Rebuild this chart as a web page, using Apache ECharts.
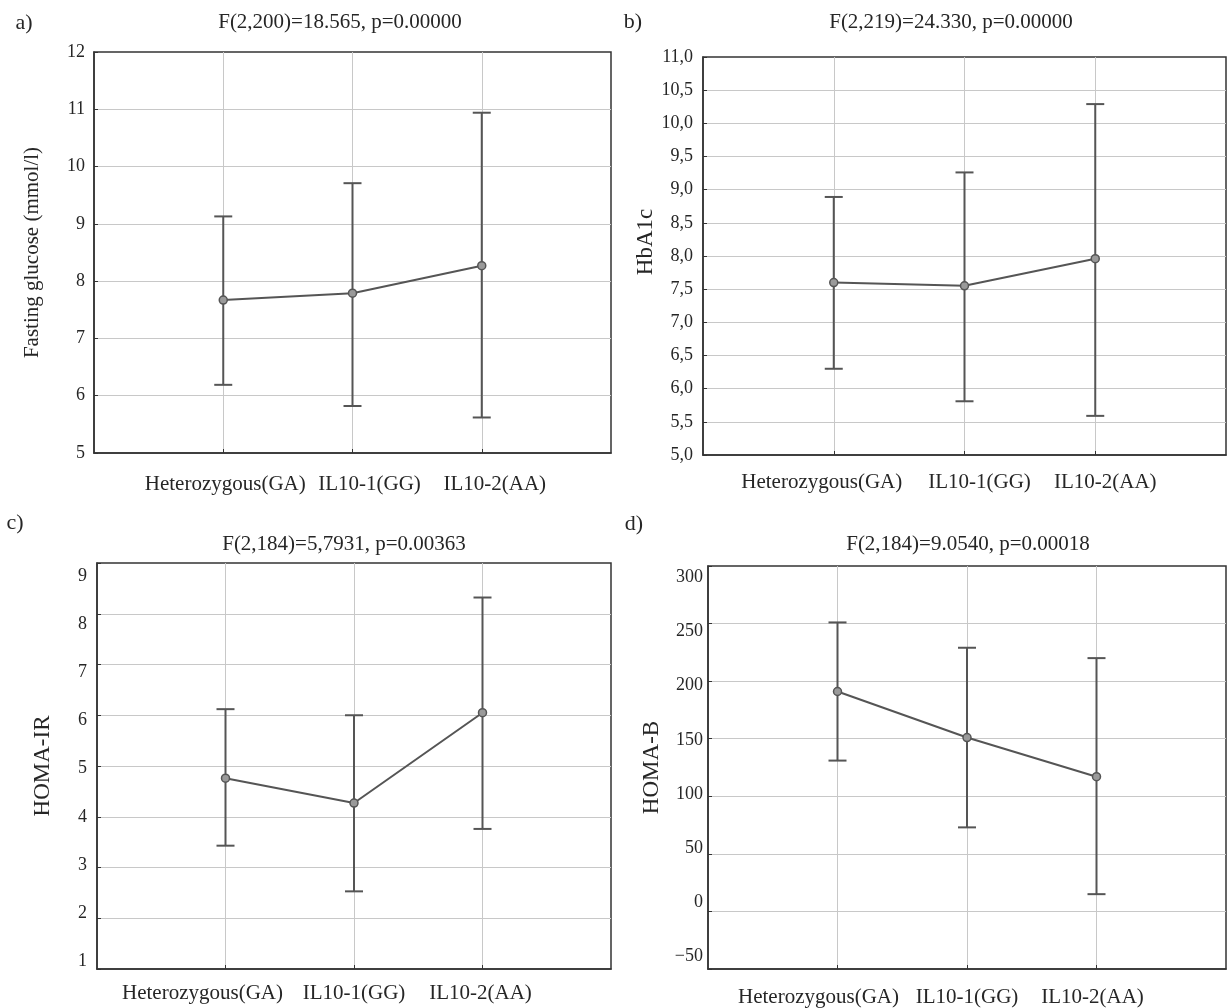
<!DOCTYPE html>
<html>
<head>
<meta charset="utf-8">
<script src="https://cdn.jsdelivr.net/npm/echarts@6/dist/echarts.min.js"></script>
<style>html,body{margin:0;padding:0;background:#fff}#c{width:1227px;height:1008px}</style>
</head>
<body>
<div id="c"></div>
<script>
// ---- data ----
const categories = ['Heterozygous(GA)', 'IL10-1(GG)', 'IL10-2(AA)'];

const glucoseMean = [7.67, 7.79, 8.27];
const glucoseLow  = [6.19, 5.82, 5.62];
const glucoseHigh = [9.13, 9.71, 10.94];

const hba1cMean = [7.60, 7.55, 7.96];
const hba1cLow  = [6.30, 5.81, 5.59];
const hba1cHigh = [8.89, 9.26, 10.29];

const homaIrMean = [4.76, 4.27, 6.05];
const homaIrLow  = [3.43, 2.53, 3.76];
const homaIrHigh = [6.12, 6.00, 8.32];

const homaBMean = [191, 151, 117];
const homaBLow  = [131, 73, 15];
const homaBHigh = [251, 229, 220];

const panelLetters = ['a)', 'b)', 'c)', 'd)'];
const panelTitles = ['F(2,200)=18.565, p=0.00000', 'F(2,219)=24.330, p=0.00000',
                     'F(2,184)=5,7931, p=0.00363', 'F(2,184)=9.0540, p=0.00018'];
const yNames = ['Fasting glucose (mmol/l)', 'HbA1c', 'HOMA-IR', 'HOMA-B'];

// ---- styling / layout ----
const FONT = '"Liberation Serif", "DejaVu Serif", serif';
const TXT = '#262626';
const LINE = '#555555';

const panels = [
  {mean: glucoseMean, low: glucoseLow, high: glucoseHigh, min: 5, max: 12, interval: 1,
   grid: {left: 94, top: 52, width: 517, height: 401}, xMargin: 21, yMargin: 9, nameGap: 51, namePad: 0, nameSize: 21,
   xOff: [2, 17, 13], yOff: null, fmt: v => String(v),
   letter: [24, 12], title: [340, 12]},
  {mean: hba1cMean, low: hba1cLow, high: hba1cHigh, min: 5, max: 11, interval: 0.5,
   grid: {left: 703, top: 57, width: 523, height: 398}, xMargin: 17, yMargin: 10, nameGap: 45, namePad: 28, nameSize: 23,
   xOff: [-12, 15, 10], yOff: null, fmt: v => v.toFixed(1).replace('.', ','),
   letter: [633, 11], title: [951, 12]},
  {mean: homaIrMean, low: homaIrLow, high: homaIrHigh, min: 1, max: 9, interval: 1,
   grid: {left: 97, top: 563, width: 514, height: 406}, xMargin: 14, yMargin: 10, nameGap: 43, namePad: 0, nameSize: 23,
   xOff: [-23, 0, -2], yOff: v => -7.5 + (v - 1) * 2.55, fmt: v => String(v),
   letter: [15, 512], title: [344, 534]},
  {mean: homaBMean, low: homaBLow, high: homaBHigh, min: -50, max: 300, interval: 50,
   grid: {left: 708, top: 566, width: 518, height: 403}, xMargin: 18, yMargin: 5, nameGap: 45, namePad: 0, nameSize: 23,
   xOff: [-19, 0, -4], yOff: v => -12.3 + (v + 50) / 50 * 3.37, fmt: v => (v < 0 ? '\u2212' + Math.abs(v) : String(v)),
   letter: [634, 513], title: [968, 534]}
];

function baseText(size) {
  return {fontFamily: FONT, fontSize: size, color: TXT};
}

function xRich(offs) {
  const r = {};
  offs.forEach((o, i) => {
    r['p' + i] = Object.assign(baseText(21), {padding: o >= 0 ? [0, 0, 0, 2 * o] : [0, -2 * o, 0, 0]});
  });
  return r;
}

function yRich(p) {
  const r = {};
  if (!p.yOff) return r;
  for (let v = p.min, k = 0; v <= p.max + 1e-9; v += p.interval, k++) {
    const d = p.yOff(v);
    r['t' + k] = Object.assign(baseText(18), {padding: d >= 0 ? [2 * d, 0, 0, 0] : [0, 0, -2 * d, 0]});
  }
  return r;
}

function errRender(params, api) {
  const x = api.value(0), lo = api.value(1), hi = api.value(2);
  const a = api.coord([x, lo]), b = api.coord([x, hi]);
  const w = 9;
  const st = {stroke: LINE, lineWidth: 2};
  return {type: 'group', children: [
    {type: 'line', shape: {x1: a[0], y1: a[1], x2: b[0], y2: b[1]}, style: st},
    {type: 'line', shape: {x1: a[0] - w, y1: a[1], x2: a[0] + w, y2: a[1]}, style: st},
    {type: 'line', shape: {x1: b[0] - w, y1: b[1], x2: b[0] + w, y2: b[1]}, style: st}
  ]};
}

const option = {
  backgroundColor: '#ffffff',
  animation: false,
  title: [],
  grid: [], xAxis: [], yAxis: [], series: []
};

panels.forEach((p, i) => {
  option.title.push({text: panelLetters[i], left: p.letter[0], top: p.letter[1], textAlign: 'center', padding: 0,
    textStyle: Object.assign(baseText(22), {fontWeight: 'normal'})});
  option.title.push({text: panelTitles[i], left: p.title[0], top: p.title[1], textAlign: 'center', padding: 0,
    textStyle: Object.assign(baseText(21), {fontWeight: 'normal'})});

  option.grid.push(Object.assign({show: true, borderColor: '#333', borderWidth: 1.5, backgroundColor: 'transparent'}, p.grid));

  option.xAxis.push({
    type: 'value', gridIndex: i, min: 0, max: 4, interval: 1,
    axisLine: {show: true, onZero: false, lineStyle: {color: '#333', width: 1.5}},
    axisTick: {show: true, inside: true, length: 4, lineStyle: {color: '#333'}},
    splitLine: {show: true, showMinLine: false, showMaxLine: false, lineStyle: {color: '#c8c8c8', width: 1}},
    axisLabel: {
      margin: p.xMargin, fontFamily: FONT, fontSize: 21, color: TXT,
      formatter: v => (v >= 1 && v <= 3 ? '{p' + (v - 1) + '|' + categories[v - 1] + '}' : ''),
      rich: xRich(p.xOff), showMinLabel: false, showMaxLabel: false
    }
  });

  const rich = yRich(p);
  option.yAxis.push({
    type: 'value', gridIndex: i, min: p.min, max: p.max, interval: p.interval,
    name: yNames[i], nameLocation: 'middle', nameGap: p.nameGap,
    nameTextStyle: Object.assign(baseText(p.nameSize), {padding: [0, 0, 0, p.namePad]}),
    axisLine: {show: true, onZero: false, lineStyle: {color: '#333', width: 1.5}},
    axisTick: {show: true, inside: true, length: 4, lineStyle: {color: '#333'}},
    splitLine: {show: true, showMinLine: false, showMaxLine: false, lineStyle: {color: '#c8c8c8', width: 1}},
    axisLabel: {
      margin: p.yMargin, fontFamily: FONT, fontSize: 18, color: TXT,
      formatter: v => {
        const s = p.fmt(v);
        if (!p.yOff) return s;
        const k = Math.round((v - p.min) / p.interval);
        return '{t' + k + '|' + s + '}';
      },
      rich: rich
    }
  });

  option.series.push({
    type: 'custom', xAxisIndex: i, yAxisIndex: i, renderItem: errRender, z: 2,
    data: categories.map((c, j) => [j + 1, p.low[j], p.high[j]])
  });
  option.series.push({
    type: 'line', xAxisIndex: i, yAxisIndex: i, z: 3,
    data: categories.map((c, j) => [j + 1, p.mean[j]]),
    lineStyle: {color: LINE, width: 2},
    symbol: 'circle', symbolSize: 8,
    itemStyle: {color: '#9a9a9a', borderColor: LINE, borderWidth: 1.5}
  });
});

const chart = echarts.init(document.getElementById('c'), null, {renderer: 'canvas'});
chart.setOption(option);
</script>
</body>
</html>
